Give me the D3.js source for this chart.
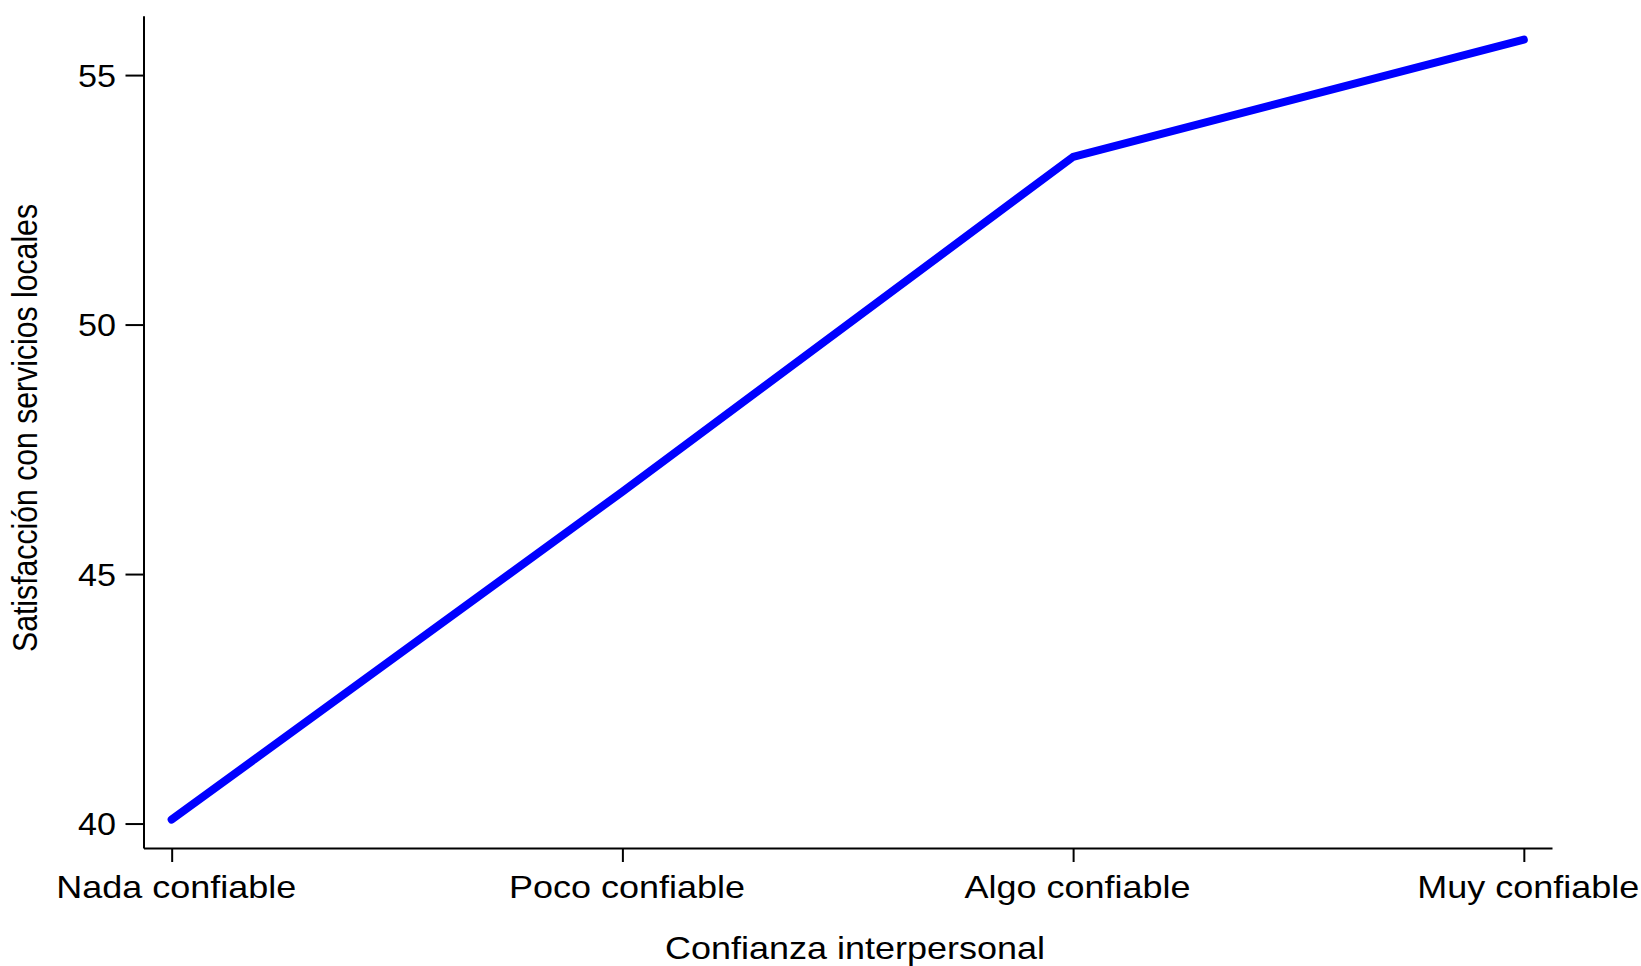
<!DOCTYPE html>
<html>
<head>
<meta charset="utf-8">
<script src="https://cdn.jsdelivr.net/npm/d3@7"></script>
<style>
  html, body { margin: 0; padding: 0; background: #fff; }
  svg { display: block; }
  text { font-family: "Liberation Sans", Arial, sans-serif; fill: #000; }
</style>
</head>
<body>
<svg id="chart" width="1641" height="966"></svg>
<script>
const categories = ["Nada confiable", "Poco confiable", "Algo confiable", "Muy confiable"];
const values = [40.08, 46.65, 53.36, 55.71];
const yTicks = [40, 45, 50, 55];
const xTitle = "Confianza interpersonal";
const yTitle = "Satisfacción con servicios locales";

const W = 1641, H = 966;
const sx = 1.18; // horizontal stretch of text in the reference
const fontSize = 30.5;

const svg = d3.select("#chart");

const x = d3.scalePoint().domain(categories).range([143.5, 1552]).padding(0.0625);
const y = d3.scaleLinear().domain([39.51, 56.19]).range([848, 15.7]);

// Y axis
const gy = svg.append("g").attr("transform", "translate(143.5,0)")
  .call(d3.axisLeft(y).tickValues(yTicks).tickSize(18).tickSizeOuter(0).tickFormat(d3.format("d")));
gy.selectAll("path.domain").attr("stroke", "#000").attr("stroke-width", 2);
gy.selectAll(".tick line").attr("stroke", "#000").attr("stroke-width", 2);
gy.selectAll(".tick text")
  .attr("font-size", fontSize)
  .attr("font-family", "Liberation Sans, Arial, sans-serif")
  .attr("x", -27.5 / 1.12)
  .attr("dy", "0.36em")
  .attr("transform", `scale(1.12,1)`);

// X axis
const gx = svg.append("g").attr("transform", "translate(0,848)")
  .call(d3.axisBottom(x).tickSize(14).tickSizeOuter(0));
gx.selectAll("path.domain").attr("stroke", "#000").attr("stroke-width", 2);
gx.selectAll(".tick line").attr("stroke", "#000").attr("stroke-width", 2);
gx.selectAll(".tick text")
  .attr("font-size", fontSize)
  .attr("font-family", "Liberation Sans, Arial, sans-serif")
  .attr("y", 49.7)
  .attr("dy", 0)
  .attr("x", 4 / sx)
  .attr("transform", `scale(${sx},1)`);

// Line
const line = d3.line()
  .x((d, i) => x(categories[i]))
  .y(d => y(d));
svg.append("path")
  .datum(values)
  .attr("d", line)
  .attr("fill", "none")
  .attr("stroke", "#0000ff")
  .attr("stroke-width", 8)
  .attr("stroke-linecap", "round")
  .attr("stroke-linejoin", "round");

// Axis titles
svg.append("text")
  .attr("transform", `translate(855,959) scale(${sx},1)`)
  .attr("text-anchor", "middle")
  .attr("font-size", fontSize)
  .text(xTitle);

svg.append("text")
  .attr("transform", `translate(37,428) scale(${sx},1) rotate(-90)`)
  .attr("text-anchor", "middle")
  .attr("font-size", 30.2)
  .text(yTitle);
</script>
</body>
</html>
